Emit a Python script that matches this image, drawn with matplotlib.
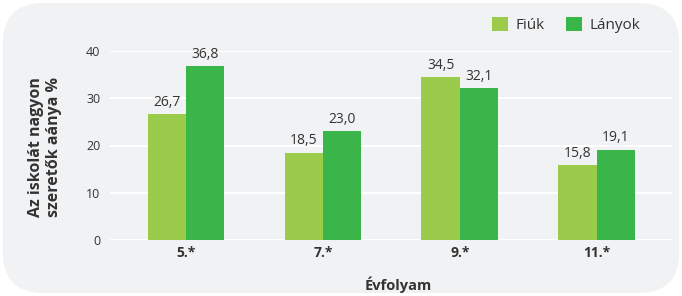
import matplotlib
matplotlib.use("Agg")
import matplotlib.pyplot as plt
from matplotlib.patches import FancyBboxPatch, Patch
import numpy as np

categories = ["5.*", "7.*", "9.*", "11.*"]
fiuk = [26.7, 18.5, 34.5, 15.8]
lanyok = [36.8, 23.0, 32.1, 19.1]
yticks = [0, 10, 20, 30, 40]
series_names = ["Fiúk", "Lányok"]

plt.rcParams['font.family'] = ['Open Sans', 'DejaVu Sans']
TXT = '#333333'
C_LIGHT = '#9BCB4B'
C_DARK = '#3AB54A'
BG = '#F1F2F4'

fig = plt.figure(figsize=(6.82, 2.96), dpi=100)
fig.patch.set_facecolor('white')
bg = FancyBboxPatch((0.004, 0.01), 0.992, 0.98,
                    boxstyle="round,pad=0,rounding_size=0.06",
                    transform=fig.transFigure, facecolor=BG, edgecolor='none',
                    mutation_aspect=682/296, zorder=-10)
fig.patches.append(bg)

ax = fig.add_axes([110/682, 1-240/296, (672-110)/682, (240-51)/296])
ax.set_facecolor('none')
x = np.arange(len(categories))
w = 0.28
b1 = ax.bar(x - w/2, fiuk, w, color=C_LIGHT, zorder=3)
b2 = ax.bar(x + w/2, lanyok, w, color=C_DARK, zorder=3)
for bars, vals in ((b1, fiuk), (b2, lanyok)):
    for r, v in zip(bars, vals):
        ax.annotate(f"{v:.1f}".replace('.', ','), (r.get_x() + r.get_width()/2, v),
                    xytext=(0, 6), textcoords='offset points', ha='center',
                    va='baseline', fontsize=10, color=TXT, zorder=4)

ax.set_xlim(-0.555, 3.55)
ax.set_ylim(0, 40)
ax.set_yticks(yticks)
ax.set_yticklabels([str(t) for t in yticks], fontsize=9, color=TXT)
ax.set_xticks(x)
ax.set_xticklabels(categories, fontsize=10, fontweight='bold', color=TXT)
ax.tick_params(axis='both', length=0)
ax.tick_params(axis='y', pad=7)
ax.tick_params(axis='x', pad=4)
for s in ax.spines.values():
    s.set_visible(False)
ax.grid(axis='y', color='white', linewidth=1.5, zorder=1)
ax.set_axisbelow(True)

fig.text(398/682, 1-285/296, "Évfolyam", ha='center', va='center',
         fontsize=10.5, fontweight='bold', color=TXT)
fig.text(45/682, 1-147/296, "Az iskolát nagyon\nszeretők aánya %", ha='center',
         va='center', rotation=90, fontsize=11.5, fontweight='bold', color=TXT,
         linespacing=1.1)

handles = [Patch(facecolor=C_LIGHT), Patch(facecolor=C_DARK)]
fig.legend(handles, series_names, loc='center right', bbox_to_anchor=(654/682, 1-25/296),
           ncol=2, frameon=False, fontsize=11, handlelength=1.05, handleheight=1.05,
           handletextpad=0.5, columnspacing=1.4, labelcolor=TXT)

fig.savefig("out.png", dpi=100, facecolor=fig.get_facecolor())
